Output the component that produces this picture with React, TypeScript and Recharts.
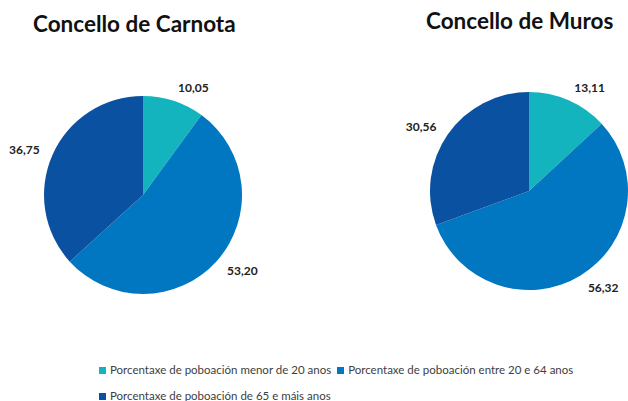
import { PieChart, Pie, Cell } from "recharts";

const CATEGORIES = [
  "Porcentaxe de poboación menor de 20 anos",
  "Porcentaxe de poboación entre 20 e 64 anos",
  "Porcentaxe de poboación de 65 e máis anos",
];
const CARNOTA = [10.05, 53.2, 36.75];
const MUROS = [13.11, 56.32, 30.56];
const COLORS = ["#14B4BE", "#0077C0", "#0B51A1"];

const FONT = "Lato, 'Open Sans', sans-serif";
const RAD = Math.PI / 180;

const toRows = (vals: number[]) =>
  vals.map((v, i) => ({ name: CATEGORIES[i], value: v }));

function renderLabel(props: any) {
  const { cx, cy, midAngle, outerRadius, value } = props;
  const r = outerRadius + 14;
  const x = cx + r * Math.cos(-midAngle * RAD);
  const y = cy + r * Math.sin(-midAngle * RAD);
  const c = Math.cos(-midAngle * RAD);
  const anchor = c > 0.3 ? "start" : c < -0.3 ? "end" : "middle";
  return (
    <text
      x={x}
      y={y}
      textAnchor={anchor}
      dominantBaseline="central"
      fontFamily={FONT}
      fontWeight={700}
      fontSize={12}
      fill="#222"
    >
      {value.toFixed(2).replace(".", ",")}
    </text>
  );
}

export default function App() {
  return (
    <div
      style={{
        position: "absolute",
        left: 0,
        top: 0,
        width: 628,
        height: 401,
        background: "#fff",
        fontFamily: FONT,
        overflow: "hidden",
      }}
    >
      <div style={{ position: "absolute", left: 33, top: 10, fontSize: 22.5, fontWeight: 700, color: "#111" }}>
        Concello de Carnota
      </div>
      <div style={{ position: "absolute", left: 426, top: 7, fontSize: 22.5, fontWeight: 700, color: "#111" }}>
        Concello de Muros
      </div>
      <PieChart
        width={628}
        height={340}
        margin={{ top: 0, right: 0, bottom: 0, left: 0 }}
        style={{ position: "absolute", left: 0, top: 0 }}
      >
        <Pie
          data={toRows(CARNOTA)}
          dataKey="value"
          cx={143}
          cy={195}
          outerRadius={99}
          startAngle={90}
          endAngle={-270}
          stroke="none"
          label={renderLabel}
          labelLine={false}
          isAnimationActive={false}
        >
          {CARNOTA.map((_, i) => (
            <Cell key={i} fill={COLORS[i]} />
          ))}
        </Pie>
        <Pie
          data={toRows(MUROS)}
          dataKey="value"
          cx={529}
          cy={191}
          outerRadius={99}
          startAngle={90}
          endAngle={-270}
          stroke="none"
          label={renderLabel}
          labelLine={false}
          isAnimationActive={false}
        >
          {MUROS.map((_, i) => (
            <Cell key={i} fill={COLORS[i]} />
          ))}
        </Pie>
      </PieChart>
      <div
        style={{
          position: "absolute",
          left: 99,
          top: 363,
          width: 510,
          display: "flex",
          flexWrap: "wrap",
          columnGap: 6,
          rowGap: 12,
          fontSize: 11.5,
          color: "#404040",
        }}
      >
        {CATEGORIES.map((c, i) => (
          <div key={c} style={{ display: "flex", alignItems: "center", gap: 4, lineHeight: "14px" }}>
            <span style={{ width: 7, height: 7, background: COLORS[i], display: "inline-block" }} />
            {c}
          </div>
        ))}
      </div>
    </div>
  );
}
